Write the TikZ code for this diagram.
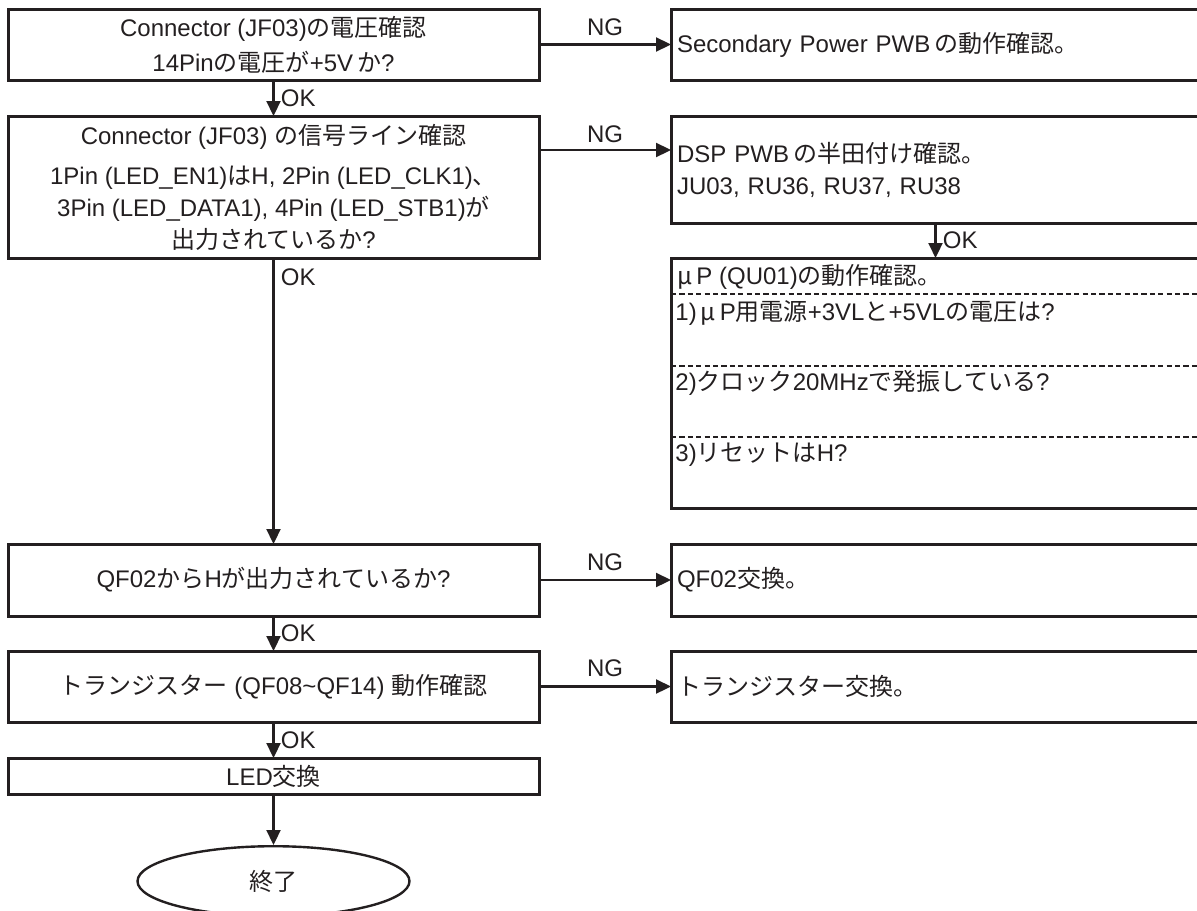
\documentclass[tikz,border=0pt]{standalone}
\usepackage{fontspec}
\setmainfont{Liberation Sans}
\newfontfamily\jpfont{Noto Sans CJK JP}
\newcommand{\jtxt}[1]{{\jpfont #1}}
\usepackage{tikz}
\usetikzlibrary{positioning,arrows.meta,shapes.geometric,calc}
\definecolor{ink}{RGB}{35,31,32}

\begin{document}
\begin{tikzpicture}[
    x=0.5pt, y=-0.5pt,
    node distance=18pt,
    box/.style={rectangle, draw=ink, line width=1.5pt, outer sep=0pt, inner sep=0pt, align=center, text=ink, font=\fontsize{12}{16}\selectfont},
    lbox/.style={box, minimum width=265.5pt},
    rbox/.style={box, minimum width=264.5pt, text width=258.5pt, inner xsep=3pt, align=left},
    term/.style={ellipse, draw=ink, line width=1.2pt, minimum width=136pt, minimum height=35pt, inner sep=0pt, text=ink, font=\fontsize{12}{12}\selectfont},
    mptxt/.style={anchor=west, inner sep=0pt, text=ink, font=\fontsize{12}{12}\selectfont},
    oklbl/.style={anchor=west, inner sep=0pt, text=ink, font=\fontsize{12}{12}\selectfont},
    nglbl/.style={inner sep=0pt, text=ink, font=\fontsize{12}{12}\selectfont},
    sepline/.style={draw=ink, line width=1pt, dash pattern=on 2.6pt off 1.6pt},
    arr/.style={-{Triangle[length=7.5pt, width=7pt]}, draw=ink, line width=1.1pt}
]
\useasboundingbox (0,0) rectangle (1197,910);

% Left column: checks
\node[lbox, minimum height=35.5pt, font=\fontsize{12}{17.5}\selectfont] (volt) at (273.5,44.5)
    {Connector (JF03)\jtxt{の電圧確認}\\14Pin\jtxt{の電圧が}+5V\,\jtxt{か}?};
\node[lbox, minimum height=71pt, below=18pt of volt] (sig)
    {Connector (JF03) \jtxt{の信号ライン確認}\\[4pt]
     1Pin (LED\_EN1)\jtxt{は}H, 2Pin (LED\_CLK1)\jtxt{、}\\
     3Pin (LED\_DATA1), 4Pin (LED\_STB1)\jtxt{が}\\
     \jtxt{出力されているか}?};
\node[lbox, minimum height=36pt, below=143pt of sig] (qfout) {QF02\jtxt{から}H\jtxt{が出力されているか}?};
\node[lbox, minimum height=35.5pt, below=17.5pt of qfout] (trchk) {\jtxt{トランジスター} (QF08\textasciitilde QF14) \jtxt{動作確認}};
\node[lbox, minimum height=18pt, below=18pt of trchk] (ledx) {LED\jtxt{交換}};
\node[term, below=25.5pt of ledx] (fin) {\jtxt{終了}};

% Right column: NG actions
\node[rbox, minimum height=35.5pt] (secpwr) at (935.5,44.5) {Secondary Power PWB\,\jtxt{の動作確認。}};
\node[rbox, minimum height=53.5pt, below=18pt of secpwr] (dspsol) {DSP PWB\,\jtxt{の半田付け確認。}\\JU03, RU36, RU37, RU38};
\node[rbox, minimum height=125pt, below=17.5pt of dspsol] (mpu) {};
\node[rbox, minimum height=36pt, below=18pt of mpu] (qfx) {QF02\jtxt{交換。}};
\node[rbox, minimum height=35.5pt, below=17.5pt of qfx] (trx) {\jtxt{トランジスター交換。}};

% uP check items
\foreach \dy in {36,108,179}
  \draw[sepline] ($(mpu.north west)+(0,\dy)$) -- ($(mpu.north east)+(0,\dy)$);
\node[mptxt] (mptitle) at ($(mpu.north west)+(6,19)$) {\jtxt{μ}\,P (QU01)\jtxt{の動作確認。}};
\node[mptxt] (mpone) at ($(mpu.north west)+(4,55)$) {1)\,\jtxt{μ}\,P\jtxt{用電源}+3VL\jtxt{と}+5VL\jtxt{の電圧は}?};
\node[mptxt] (mptwo) at ($(mpu.north west)+(4,125)$) {2)\jtxt{クロック}20MHz\jtxt{で発振している}?};
\node[mptxt] (mpthree) at ($(mpu.north west)+(4,197)$) {3)\jtxt{リセットは}H?};

% OK flow
\draw[arr] (volt) -- (sig);
\draw[arr] (sig) -- (qfout);
\draw[arr] (qfout) -- (trchk);
\draw[arr] (trchk) -- (ledx);
\draw[arr] (ledx) -- (fin);
\draw[arr] (dspsol) -- (mpu);

% NG flow
\draw[arr] (volt) -- (secpwr);
\draw[arr] ([yshift=18.5pt]sig.east) -- ([yshift=18.5pt]sig.east -| dspsol.west);
\draw[arr] (qfout) -- (qfx);
\draw[arr] (trchk) -- (trx);

% Branch labels
\node[oklbl] (ok1) at ($(volt.south)!0.5!(sig.north)+(7,0)$) {OK};
\node[oklbl] (ok2) at ($(sig.south)+(7,19)$) {OK};
\node[oklbl] (ok3) at ($(qfout.south)!0.5!(trchk.north)+(7,0)$) {OK};
\node[oklbl] (ok4) at ($(trchk.south)!0.5!(ledx.north)+(7,0)$) {OK};
\node[oklbl] (ok5) at ($(dspsol.south)!0.5!(mpu.north)+(7,0)$) {OK};
\node[nglbl] (ng1) at ($(volt.east)!0.5!(secpwr.west)+(0,-17)$) {NG};
\node[nglbl] (ng2) at ($([yshift=18.5pt]sig.east)!0.5!([yshift=18.5pt]sig.east -| dspsol.west)+(0,-16)$) {NG};
\node[nglbl] (ng3) at ($(qfout.east)!0.5!(qfx.west)+(0,-18)$) {NG};
\node[nglbl] (ng4) at ($(trchk.east)!0.5!(trx.west)+(0,-18)$) {NG};

\end{tikzpicture}
\end{document}
